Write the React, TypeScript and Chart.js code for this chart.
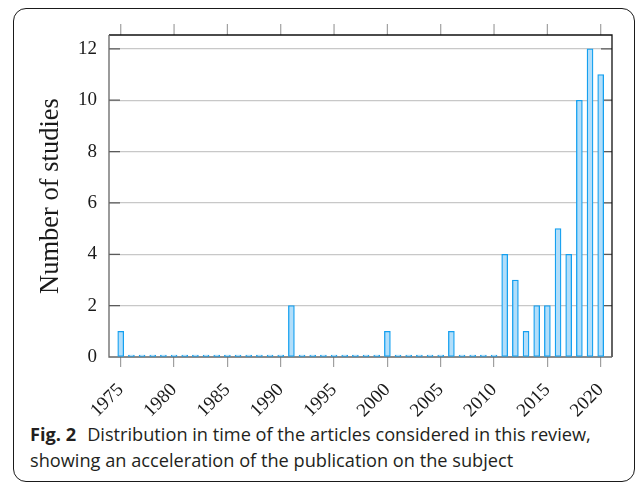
import React, { useEffect, useRef } from "react";
import { Chart, registerables } from "chart.js";

Chart.register(...registerables);

// ---- data ----
const years = [
  1975, 1976, 1977, 1978, 1979, 1980, 1981, 1982, 1983, 1984,
  1985, 1986, 1987, 1988, 1989, 1990, 1991, 1992, 1993, 1994,
  1995, 1996, 1997, 1998, 1999, 2000, 2001, 2002, 2003, 2004,
  2005, 2006, 2007, 2008, 2009, 2010, 2011, 2012, 2013, 2014,
  2015, 2016, 2017, 2018, 2019, 2020,
];
const studies = [
  1, 0, 0, 0, 0, 0, 0, 0, 0, 0,
  0, 0, 0, 0, 0, 0, 2, 0, 0, 0,
  0, 0, 0, 0, 0, 1, 0, 0, 0, 0,
  0, 1, 0, 0, 0, 0, 4, 3, 1, 2,
  2, 5, 4, 10, 12, 11,
];
const xTickValues = [1975, 1980, 1985, 1990, 1995, 2000, 2005, 2010, 2015, 2020];
const yTickValues = [0, 2, 4, 6, 8, 10, 12];
const xMin = 1973.9;
const xMax = 2021.06;
const yMin = 0;
const yMax = 12.54;
const yTitle = "Number of studies";
const captionLabel = "Fig. 2";
const captionLine1 = "Distribution in time of the articles considered in this review,";
const captionLine2 = "showing an acceleration of the publication on the subject";

const SERIF = "'Liberation Serif', 'DejaVu Serif', serif";

const framePlugin = {
  id: "pgfFrame",
  beforeDatasetsDraw(chart: any) {
    const { ctx, chartArea: a, scales } = chart;
    const x = scales.x;
    const y = scales.y;
    ctx.save();
    // y ticks inside on both sides
    ctx.strokeStyle = "#5a5a5a";
    ctx.lineWidth = 1.2;
    yTickValues.forEach((v) => {
      if (v === 0) return;
      const py = y.getPixelForValue(v);
      ctx.beginPath();
      ctx.moveTo(a.left, py);
      ctx.lineTo(a.left + 11, py);
      ctx.moveTo(a.right - 11, py);
      ctx.lineTo(a.right, py);
      ctx.stroke();
    });
    // x ticks outside on top
    ctx.strokeStyle = "#a0a0a0";
    xTickValues.forEach((v) => {
      const px = x.getPixelForValue(v);
      ctx.beginPath();
      ctx.moveTo(px, a.top - 11);
      ctx.lineTo(px, a.top);
      ctx.stroke();
    });
    // frame
    ctx.lineWidth = 1.3;
    ctx.strokeStyle = "#111";
    ctx.beginPath();
    ctx.moveTo(a.left, a.top);
    ctx.lineTo(a.right, a.top);
    ctx.lineTo(a.right, a.bottom);
    ctx.stroke();
    ctx.strokeStyle = "#666";
    ctx.beginPath();
    ctx.moveTo(a.left, a.top);
    ctx.lineTo(a.left, a.bottom);
    ctx.lineTo(a.right, a.bottom);
    ctx.stroke();
    ctx.restore();
  },
};

function BarChart() {
  const ref = useRef<HTMLCanvasElement | null>(null);
  useEffect(() => {
    if (!ref.current) return;
    const chart = new Chart(ref.current, {
      type: "bar",
      data: {
        datasets: [
          {
            data: years.map((yr, i) => ({ x: yr, y: studies[i] })),
            backgroundColor: "rgb(178, 222, 250)",
            borderColor: "rgb(20, 160, 240)",
            borderWidth: 1.3,
            borderSkipped: false,
            barThickness: 6,
            minBarLength: 2,
          },
        ],
      },
      options: {
        animation: false,
        responsive: false,
        devicePixelRatio: 1,
        layout: { padding: { top: 35, right: 25, left: 0, bottom: 0 } },
        plugins: { legend: { display: false }, tooltip: { enabled: false } },
        scales: {
          x: {
            type: "linear",
            min: xMin,
            max: xMax,
            offset: false,
            grid: {
              display: true,
              drawOnChartArea: false,
              drawTicks: true,
              tickLength: 10,
              color: "#a0a0a0",
              lineWidth: 1.2,
              offset: false,
            },
            border: { display: false },
            ticks: {
              autoSkip: false,
              minRotation: 45,
              maxRotation: 45,
              padding: 12,
              color: "#1a1a1a",
              font: { family: SERIF, size: 19 },
              callback: (v: any) => String(v),
            },
            afterBuildTicks: (s: any) => {
              s.ticks = xTickValues.map((v) => ({ value: v }));
            },
            afterFit: (s: any) => {
              s.height = 63;
            },
          },
          y: {
            type: "linear",
            min: yMin,
            max: yMax,
            grid: {
              color: (c: any) => (c.tick && c.tick.value === 0 ? "rgba(0,0,0,0)" : "#c8c8c8"),
              drawTicks: false,
              lineWidth: 1.2,
            },
            border: { display: false },
            ticks: {
              padding: 12,
              color: "#1a1a1a",
              font: { family: SERIF, size: 19 },
            },
            afterBuildTicks: (s: any) => {
              s.ticks = yTickValues.map((v) => ({ value: v }));
            },
            afterFit: (s: any) => {
              s.width = 109;
            },
            title: {
              display: true,
              text: yTitle,
              color: "#1a1a1a",
              font: { family: SERIF, size: 26.5, lineHeight: 1.2 },
              padding: { top: 35.5, bottom: 0 },
            },
          },
        },
      },
      plugins: [framePlugin],
    } as any);
    return () => chart.destroy();
  }, []);
  return (
    <canvas
      ref={ref}
      width={637}
      height={420}
      style={{ position: "absolute", left: 0, top: 0, width: 637, height: 420 }}
    />
  );
}

export default function App() {
  const captionStyle: React.CSSProperties = {
    position: "absolute",
    left: 30,
    fontFamily: "'Open Sans', 'Noto Sans', sans-serif",
    fontSize: 18.2,
    lineHeight: "20px",
    color: "#231f20",
    whiteSpace: "nowrap",
  };
  return (
    <div
      style={{
        position: "absolute",
        left: 0,
        top: 0,
        width: 637,
        height: 483,
        background: "#fff",
        overflow: "hidden",
      }}
    >
      <div
        style={{
          position: "absolute",
          left: 13,
          top: 8,
          width: 620,
          height: 472,
          border: "1.5px solid #1a1a1a",
          borderRadius: 13,
        }}
      />
      <BarChart />
      <div style={{ ...captionStyle, top: 424 }}>
        <span style={{ fontWeight: 700, marginRight: 11 }}>{captionLabel}</span>
        {captionLine1}
      </div>
      <div style={{ ...captionStyle, top: 450 }}>{captionLine2}</div>
    </div>
  );
}
